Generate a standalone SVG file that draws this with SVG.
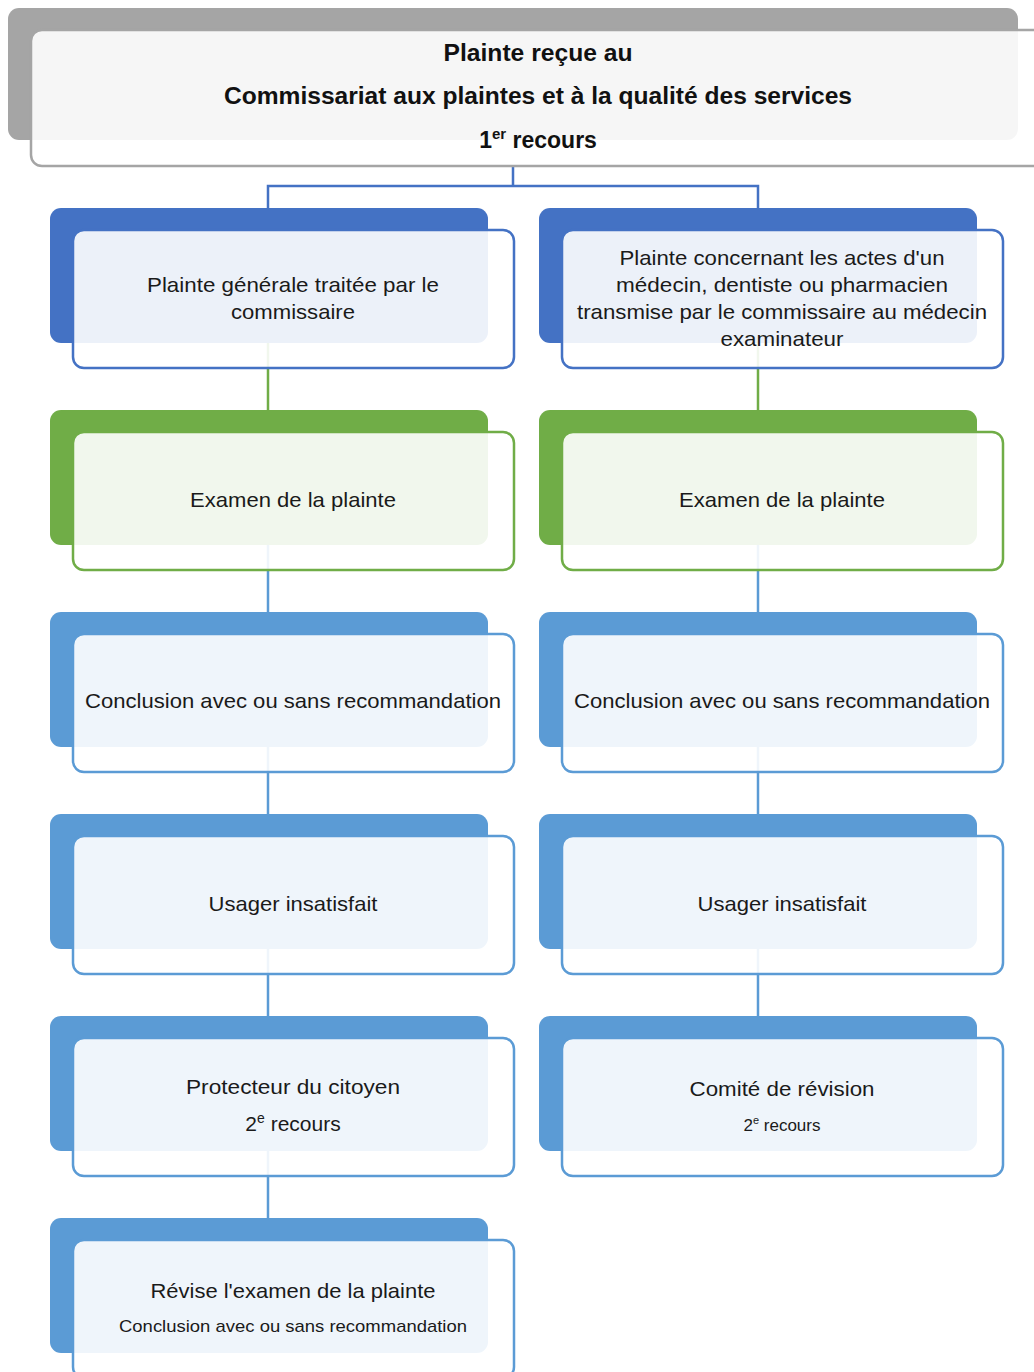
<svg xmlns="http://www.w3.org/2000/svg" width="1034" height="1372" viewBox="0 0 1034 1372">
<style>
.bg{fill:#ffffff}
.front{fill:#ffffff;fill-opacity:0.9;stroke-width:2.5}
.t{font-family:"Liberation Sans",Arial,sans-serif;font-size:21px;fill:#1a1a1a;text-anchor:middle}
.tb{font-family:"Liberation Sans",Arial,sans-serif;font-size:23px;font-weight:bold;fill:#111;text-anchor:middle}
.s{font-size:17px}
.c{fill:none;stroke-width:2.5}
.blue{fill:#4472c4}
.green{fill:#70ad47}
.lb{fill:#5b9bd5}
</style>
<rect class="bg" x="0" y="0" width="1034" height="1372"/>
<g id="connectors">
<path class="c" stroke="#4472c4" d="M513 166 V186 M268 208 V186 H758 V208"/>
<path class="c" stroke="#70ad47" d="M268 343 V410 M758 343 V410"/>
<path class="c" stroke="#5b9bd5" d="M268 545 V612 M758 545 V612 M268 747 V814 M758 747 V814 M268 949 V1016 M758 949 V1016 M268 1151 V1218"/>
</g>
<g id="n0">
<rect x="8" y="8" width="1010" height="132" rx="11" fill="#a5a5a5"/>
<rect class="front" x="31" y="30" width="1020" height="136" rx="11" stroke="#a5a5a5"/>
<text class="tb" x="538" y="61" textLength="189" lengthAdjust="spacingAndGlyphs">Plainte reçue au</text>
<text class="tb" x="538" y="104" textLength="628" lengthAdjust="spacingAndGlyphs">Commissariat aux plaintes et à la qualité des services</text>
<text class="tb" x="538" y="148">1<tspan font-size="15" dy="-9">er</tspan><tspan dy="9"> recours</tspan></text>
</g>
<g id="n1">
<rect class="blue" x="50" y="208" width="438" height="135" rx="11"/>
<rect class="front" x="73" y="230" width="441" height="138" rx="11" stroke="#4472c4"/>
<text class="t" x="293" y="292" textLength="292" lengthAdjust="spacingAndGlyphs">Plainte générale traitée par le</text>
<text class="t" x="293" y="319" textLength="124" lengthAdjust="spacingAndGlyphs">commissaire</text>
</g>
<g id="n2">
<rect class="blue" x="539" y="208" width="438" height="135" rx="11"/>
<rect class="front" x="562" y="230" width="441" height="138" rx="11" stroke="#4472c4"/>
<text class="t" x="782" y="265" textLength="325" lengthAdjust="spacingAndGlyphs">Plainte concernant les actes d'un</text>
<text class="t" x="782" y="292" textLength="332" lengthAdjust="spacingAndGlyphs">médecin, dentiste ou pharmacien</text>
<text class="t" x="782" y="319" textLength="410" lengthAdjust="spacingAndGlyphs">transmise par le commissaire au médecin</text>
<text class="t" x="782" y="346" textLength="123" lengthAdjust="spacingAndGlyphs">examinateur</text>
</g>
<g id="n3">
<rect class="green" x="50" y="410" width="438" height="135" rx="11"/>
<rect class="front" x="73" y="432" width="441" height="138" rx="11" stroke="#70ad47"/>
<text class="t" x="293" y="507" textLength="206" lengthAdjust="spacingAndGlyphs">Examen de la plainte</text>
</g>
<g id="n4">
<rect class="green" x="539" y="410" width="438" height="135" rx="11"/>
<rect class="front" x="562" y="432" width="441" height="138" rx="11" stroke="#70ad47"/>
<text class="t" x="782" y="507" textLength="206" lengthAdjust="spacingAndGlyphs">Examen de la plainte</text>
</g>
<g id="n5">
<rect class="lb" x="50" y="612" width="438" height="135" rx="11"/>
<rect class="front" x="73" y="634" width="441" height="138" rx="11" stroke="#5b9bd5"/>
<text class="t" x="293" y="708" textLength="416" lengthAdjust="spacingAndGlyphs">Conclusion avec ou sans recommandation</text>
</g>
<g id="n6">
<rect class="lb" x="539" y="612" width="438" height="135" rx="11"/>
<rect class="front" x="562" y="634" width="441" height="138" rx="11" stroke="#5b9bd5"/>
<text class="t" x="782" y="708" textLength="416" lengthAdjust="spacingAndGlyphs">Conclusion avec ou sans recommandation</text>
</g>
<g id="n7">
<rect class="lb" x="50" y="814" width="438" height="135" rx="11"/>
<rect class="front" x="73" y="836" width="441" height="138" rx="11" stroke="#5b9bd5"/>
<text class="t" x="293" y="911" textLength="169" lengthAdjust="spacingAndGlyphs">Usager insatisfait</text>
</g>
<g id="n8">
<rect class="lb" x="539" y="814" width="438" height="135" rx="11"/>
<rect class="front" x="562" y="836" width="441" height="138" rx="11" stroke="#5b9bd5"/>
<text class="t" x="782" y="911" textLength="169" lengthAdjust="spacingAndGlyphs">Usager insatisfait</text>
</g>
<g id="n9">
<rect class="lb" x="50" y="1016" width="438" height="135" rx="11"/>
<rect class="front" x="73" y="1038" width="441" height="138" rx="11" stroke="#5b9bd5"/>
<text class="t" x="293" y="1094" textLength="214" lengthAdjust="spacingAndGlyphs">Protecteur du citoyen</text>
<text class="t" x="293" y="1131">2<tspan font-size="14" dy="-8">e</tspan><tspan dy="8"> recours</tspan></text>
</g>
<g id="n10">
<rect class="lb" x="539" y="1016" width="438" height="135" rx="11"/>
<rect class="front" x="562" y="1038" width="441" height="138" rx="11" stroke="#5b9bd5"/>
<text class="t" x="782" y="1096" textLength="185" lengthAdjust="spacingAndGlyphs">Comité de révision</text>
<text class="t s" x="782" y="1131">2<tspan font-size="11" dy="-7">e</tspan><tspan dy="7"> recours</tspan></text>
</g>
<g id="n11">
<rect class="lb" x="50" y="1218" width="438" height="135" rx="11"/>
<rect class="front" x="73" y="1240" width="441" height="138" rx="11" stroke="#5b9bd5"/>
<text class="t" x="293" y="1298" textLength="285" lengthAdjust="spacingAndGlyphs">Révise l'examen de la plainte</text>
<text class="t s" x="293" y="1332" textLength="348" lengthAdjust="spacingAndGlyphs">Conclusion avec ou sans recommandation</text>
</g>
</svg>
